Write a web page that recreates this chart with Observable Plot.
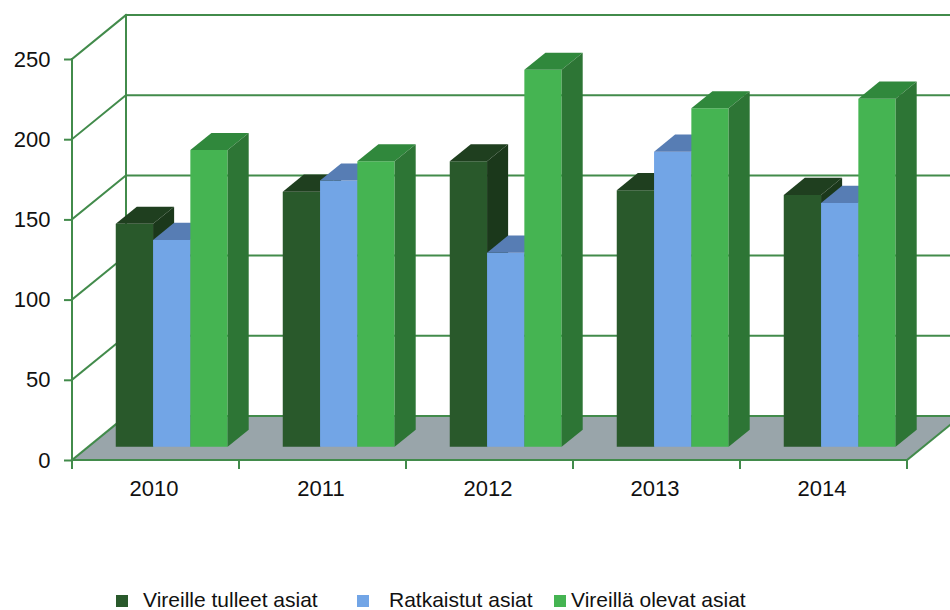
<!DOCTYPE html>
<html><head><meta charset="utf-8">
<script src="https://cdn.jsdelivr.net/npm/d3@7"></script>
<script src="https://cdn.jsdelivr.net/npm/@observablehq/plot@0.6"></script>
<style>
body{margin:0;background:#fff;font-family:'Liberation Sans',Arial,sans-serif;overflow:hidden;}
#legend{position:relative;height:25px;width:950px;}
.item{position:absolute;top:4px;height:21px;line-height:21px;font-size:21px;color:#111;white-space:nowrap;}
.sw{position:absolute;top:10px;width:12px;height:12px;}
</style></head><body>
<div id="chart"></div>
<div id="legend"></div>
<script>
// ---- data ----
const years = ["2010", "2011", "2012", "2013", "2014"];
const seriesNames = ["Vireille tulleet asiat", "Ratkaistut asiat", "Vireillä olevat asiat"];
const vireilleTulleet = [139, 159, 178, 160, 157];
const ratkaistut = [129, 166, 121, 184, 152];
const vireillaOlevat = [185, 178, 235, 211, 217];
const yTicks = [0, 50, 100, 150, 200, 250];

// ---- styles ----
const seriesValues = [vireilleTulleet, ratkaistut, vireillaOlevat];
const frontColors = ["#29592b", "#72a5e6", "#45b452"];
const topColors = ["#1f3f1f", "#577db4", "#30883c"];
const sideColors = ["#1b381b", "#4c72a8", "#2d7535"];
const gridColor = "#428b4b";
const floorColor = "#99a5aa";
const DX = 54, DY = -44;      // full depth offset of the 3D box
const F0 = 0.30, F1 = 0.69;   // bar depth fraction range
const GROUP = 0.67;           // group width as fraction of band

const rows = years.flatMap((yr, i) => seriesNames.map((s, j) => ({year: yr, series: s, j, value: seriesValues[j][i]})));

function scene(index, scales) {
  const x = scales.x, y = scales.y;
  const bw = x.bandwidth ? x.bandwidth() : (x(years[1]) - x(years[0]));
  const xl = x(years[0]), xr = x(years[years.length - 1]) + bw;
  const y0 = y(0), yMax = y(d3.max(yTicks));
  const g = d3.create("svg:g");
  const line = (x1, y1, x2, y2) => g.append("line")
    .attr("x1", x1).attr("y1", y1).attr("x2", x2).attr("y2", y2)
    .attr("stroke", gridColor).attr("stroke-width", 2).attr("stroke-linecap", "square");
  const poly = (pts, fill) => g.append("polygon").attr("points", pts.map(p => p.join(",")).join(" ")).attr("fill", fill);

  // floor
  poly([[xl, y0], [xr, y0], [xr + DX, y0 + DY], [xl + DX, y0 + DY]], floorColor);
  // back wall gridlines
  for (const v of yTicks) line(xl + DX, y(v) + DY, xr + DX + 20, y(v) + DY);
  line(xl + DX, y0 + DY, xl + DX, yMax + DY);
  // left wall diagonals
  for (const v of yTicks) line(xl, y(v), xl + DX, y(v) + DY);
  // front axis line, floor front and right edges
  line(xl, y0, xl, yMax);
  line(xl, y0, xr, y0);
  line(xr, y0, xr + DX, y0 + DY);
  // x ticks at band boundaries
  for (let i = 0; i <= years.length; i++) {
    const xx = i < years.length ? x(years[i]) : xr;
    line(xx, y0, xx, y0 + 8);
  }
  // bars
  const gw = bw * GROUP, pad = (bw - gw) / 2, barW = gw / seriesNames.length;
  const ddx = (F1 - F0) * DX, ddy = (F1 - F0) * DY;
  for (const r of rows) {
    const L = x(r.year) + F0 * DX + pad + r.j * barW;
    const yb = y0 + F0 * DY, yt = y(r.value) + F0 * DY;
    const R = L + barW;
    poly([[L, yb], [R, yb], [R, yt], [L, yt]], frontColors[r.j]);
    poly([[L, yt], [R, yt], [R + ddx, yt + ddy], [L + ddx, yt + ddy]], topColors[r.j]);
    poly([[R, yb], [R, yt], [R + ddx, yt + ddy], [R + ddx, yb + ddy]], sideColors[r.j]);
  }
  return g.node();
}

const chart = Plot.plot({
  width: 950,
  height: 585,
  marginLeft: 72,
  marginRight: 43,
  marginTop: 59,
  marginBottom: 125,
  style: {fontFamily: "'Liberation Sans', Arial, sans-serif", fontSize: "22px", background: "white", color: "#111", overflow: "visible"},
  x: {type: "band", domain: years, paddingInner: 0, paddingOuter: 0},
  y: {domain: [0, 250]},
  marks: [
    scene,
    Plot.axisY(yTicks, {tickSize: 8, tickPadding: 14, fontSize: 22, stroke: gridColor, strokeWidth: 2, fill: "#111", label: null}),
    Plot.axisX(years, {tickSize: 0, tickPadding: 20, fontSize: 22, fill: "#111", label: null, dx: -2})
  ]
});
document.getElementById("chart").appendChild(chart);

// legend
const legendPos = [[116, 143], [357, 389], [554, 571]];
const leg = document.getElementById("legend");
seriesNames.forEach((s, j) => {
  const sw = document.createElement("div");
  sw.className = "sw";
  sw.style.left = legendPos[j][0] + "px";
  sw.style.background = frontColors[j];
  leg.appendChild(sw);
  const t = document.createElement("div");
  t.className = "item";
  t.style.left = legendPos[j][1] + "px";
  t.textContent = s;
  leg.appendChild(t);
});
</script></body></html>
